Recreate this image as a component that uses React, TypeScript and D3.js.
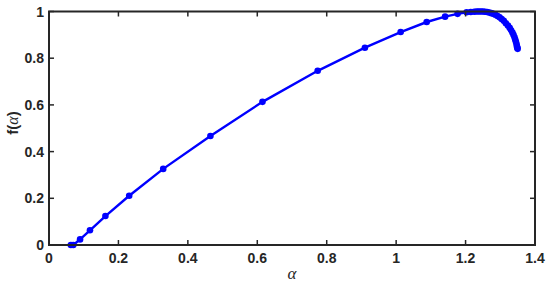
import React from "react";
import * as d3 from "d3";

const alphaValues = [
  0.063, 0.07, 0.0895, 0.118, 0.1625, 0.231, 0.329, 0.465, 0.615, 0.774, 0.91, 1.013, 1.088, 1.141,
  1.177, 1.203, 1.215, 1.225, 1.232, 1.238, 1.244, 1.25, 1.256, 1.262, 1.268, 1.274, 1.28, 1.286,
  1.292, 1.298, 1.304, 1.31, 1.316, 1.322, 1.327, 1.331, 1.335, 1.338, 1.341, 1.343, 1.345, 1.347,
  1.348, 1.349, 1.35,
];
const fValues = [
  0, 0, 0.024, 0.063, 0.124, 0.211, 0.326, 0.467, 0.613, 0.746, 0.845, 0.912, 0.955, 0.978,
  0.99, 0.997, 0.998, 0.999, 1.0, 1.0, 1.0, 1.0, 0.999, 0.998, 0.996, 0.993, 0.99, 0.986,
  0.981, 0.975, 0.968, 0.96, 0.95, 0.94, 0.93, 0.92, 0.91, 0.9, 0.89, 0.88, 0.87, 0.86,
  0.85, 0.845, 0.84,
];
const xTicks = [0, 0.2, 0.4, 0.6, 0.8, 1, 1.2, 1.4];
const yTicks = [0, 0.2, 0.4, 0.6, 0.8, 1];

export default function App() {
  const W = 550, H = 287;
  const L = 49, R = 535, T = 11.5, B = 245;
  const x = d3.scaleLinear().domain([0, 1.4]).range([L, R]);
  const y = d3.scaleLinear().domain([0, 1]).range([B, T]);
  const pts = alphaValues.map((a, i) => [a, fValues[i]] as [number, number]);
  const line = d3.line<[number, number]>().x(d => x(d[0])).y(d => y(d[1]));
  const axisColor = "#262626";
  const tickFont = { fontFamily: "Arial, 'Liberation Sans', sans-serif", fontWeight: "bold", fontSize: 14, fill: axisColor } as const;
  const blue = "#0000ff";
  return (
    <svg width={W} height={H} style={{ position: "absolute", left: 0, top: 0, background: "#fff" }}>
      <rect x={0} y={0} width={W} height={H} fill="#fff" />
      <path d={line(pts) || ""} fill="none" stroke={blue} strokeWidth={2.4} />
      {pts.map((p, i) => (
        <circle key={i} cx={x(p[0])} cy={y(p[1])} r={3.3} fill={blue} />
      ))}
      {xTicks.map(t => (
        <g key={"x" + t}>
          <line x1={x(t)} x2={x(t)} y1={B} y2={B - 5} stroke={axisColor} strokeWidth={1.5} />
          <line x1={x(t)} x2={x(t)} y1={T} y2={T + 5} stroke={axisColor} strokeWidth={1.5} />
          <text x={x(t)} y={B + 18} textAnchor="middle" {...tickFont}>{String(t)}</text>
        </g>
      ))}
      {yTicks.map(t => (
        <g key={"y" + t}>
          <line x1={L} x2={L + 5} y1={y(t)} y2={y(t)} stroke={axisColor} strokeWidth={1.5} />
          <line x1={R} x2={R - 5} y1={y(t)} y2={y(t)} stroke={axisColor} strokeWidth={1.5} />
          <text x={L - 5} y={y(t) + 5} textAnchor="end" {...tickFont}>{String(t)}</text>
        </g>
      ))}
      <rect x={L} y={T} width={R - L} height={B - T} fill="none" stroke={axisColor} strokeWidth={2} />
      <text x={(L + R) / 2} y={279} textAnchor="middle" fontFamily="'Liberation Serif', 'Times New Roman', serif" fontStyle="italic" fontSize={17} fill={axisColor}>α</text>
      <text transform={`translate(18, 123) rotate(-90)`} textAnchor="middle" fontSize={15} fill={axisColor}>
        <tspan fontFamily="Arial, 'Liberation Sans', sans-serif" fontWeight="bold">f(</tspan>
        <tspan fontFamily="'Liberation Serif', serif" fontStyle="italic" fontSize={16}>α</tspan>
        <tspan fontFamily="Arial, 'Liberation Sans', sans-serif" fontWeight="bold">)</tspan>
      </text>
    </svg>
  );
}
